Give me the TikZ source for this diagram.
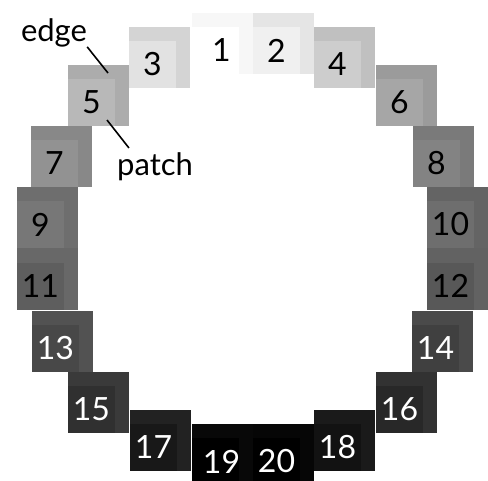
\documentclass[tikz,border=0pt]{standalone}
\usepackage{fontspec}
\setmainfont{Lato}
\begin{document}
\begin{tikzpicture}[x=1pt,y=-1pt,
  edgebox/.style={rectangle, inner sep=0pt, outer sep=0pt, minimum width=61.4pt, minimum height=61.4pt},
  patchbox/.style={rectangle, inner sep=0pt, outer sep=0pt, minimum width=47pt, minimum height=47pt},
  numlabel/.style={inner sep=0pt, font=\fontsize{32}{36}\selectfont},
  wordlabel/.style={inner sep=0pt, font=\fontsize{31}{36}\selectfont, text=black},
  pointer/.style={draw=black, line width=1.6pt}]
\useasboundingbox (0,0) rectangle (488,480);
\foreach \i/\L/\T/\pg/\eg/\tc/\dx in {
 1/192/13/255/247/black/6,
 2/253/13/240/229/black/0,
 3/129/27/226/212/black/0,
 4/314/27/205/192/black/0,
 5/68/65/184/172/black/0,
 6/376/65/166/155/black/0,
 7/31/126/146/136/black/0,
 8/413/126/131/122/black/0,
 9/17/187/119/110/black/0,
 10/427/187/110/100/black/0,
 11/17/248.5/94/104/black/0,
 12/427/248.5/88/98/black/0,
 13/32/311/72/82/white/0,
 14/412/311/64/74/white/0,
 15/68/372/48/58/white/0,
 16/376/372/40/50/white/0,
 17/130/410/24/34/white/0,
 18/314/410/18/26/white/0,
 19/192/424/0/8/white/6,
 20/253/424/0/6/white/0}
{
 \definecolor{ec}{RGB}{\eg,\eg,\eg}
 \definecolor{pc}{RGB}{\pg,\pg,\pg}
 \node[edgebox, fill=ec] (s\i) at (\L+30.5,\T+30.5) {};
 \node[patchbox, fill=pc] (p\i) at (\L+23.5,\T+37.5) {};
 \node[numlabel, text=\tc] (n\i) at (\L+23.5+\dx,\T+37.5) {\i};
}
\node[wordlabel, anchor=base] (edgelab) at (54,41) {edge};
\node[wordlabel, anchor=base] (patchlab) at (155,175) {patch};
\coordinate (edgetip) at (108,73);
\coordinate (patchtip) at (107,120);
\draw[pointer] (edgelab.south east) -- (edgetip);
\draw[pointer] (patchtip) -- ([xshift=12pt,yshift=4pt]patchlab.north west);
\end{tikzpicture}
\end{document}
